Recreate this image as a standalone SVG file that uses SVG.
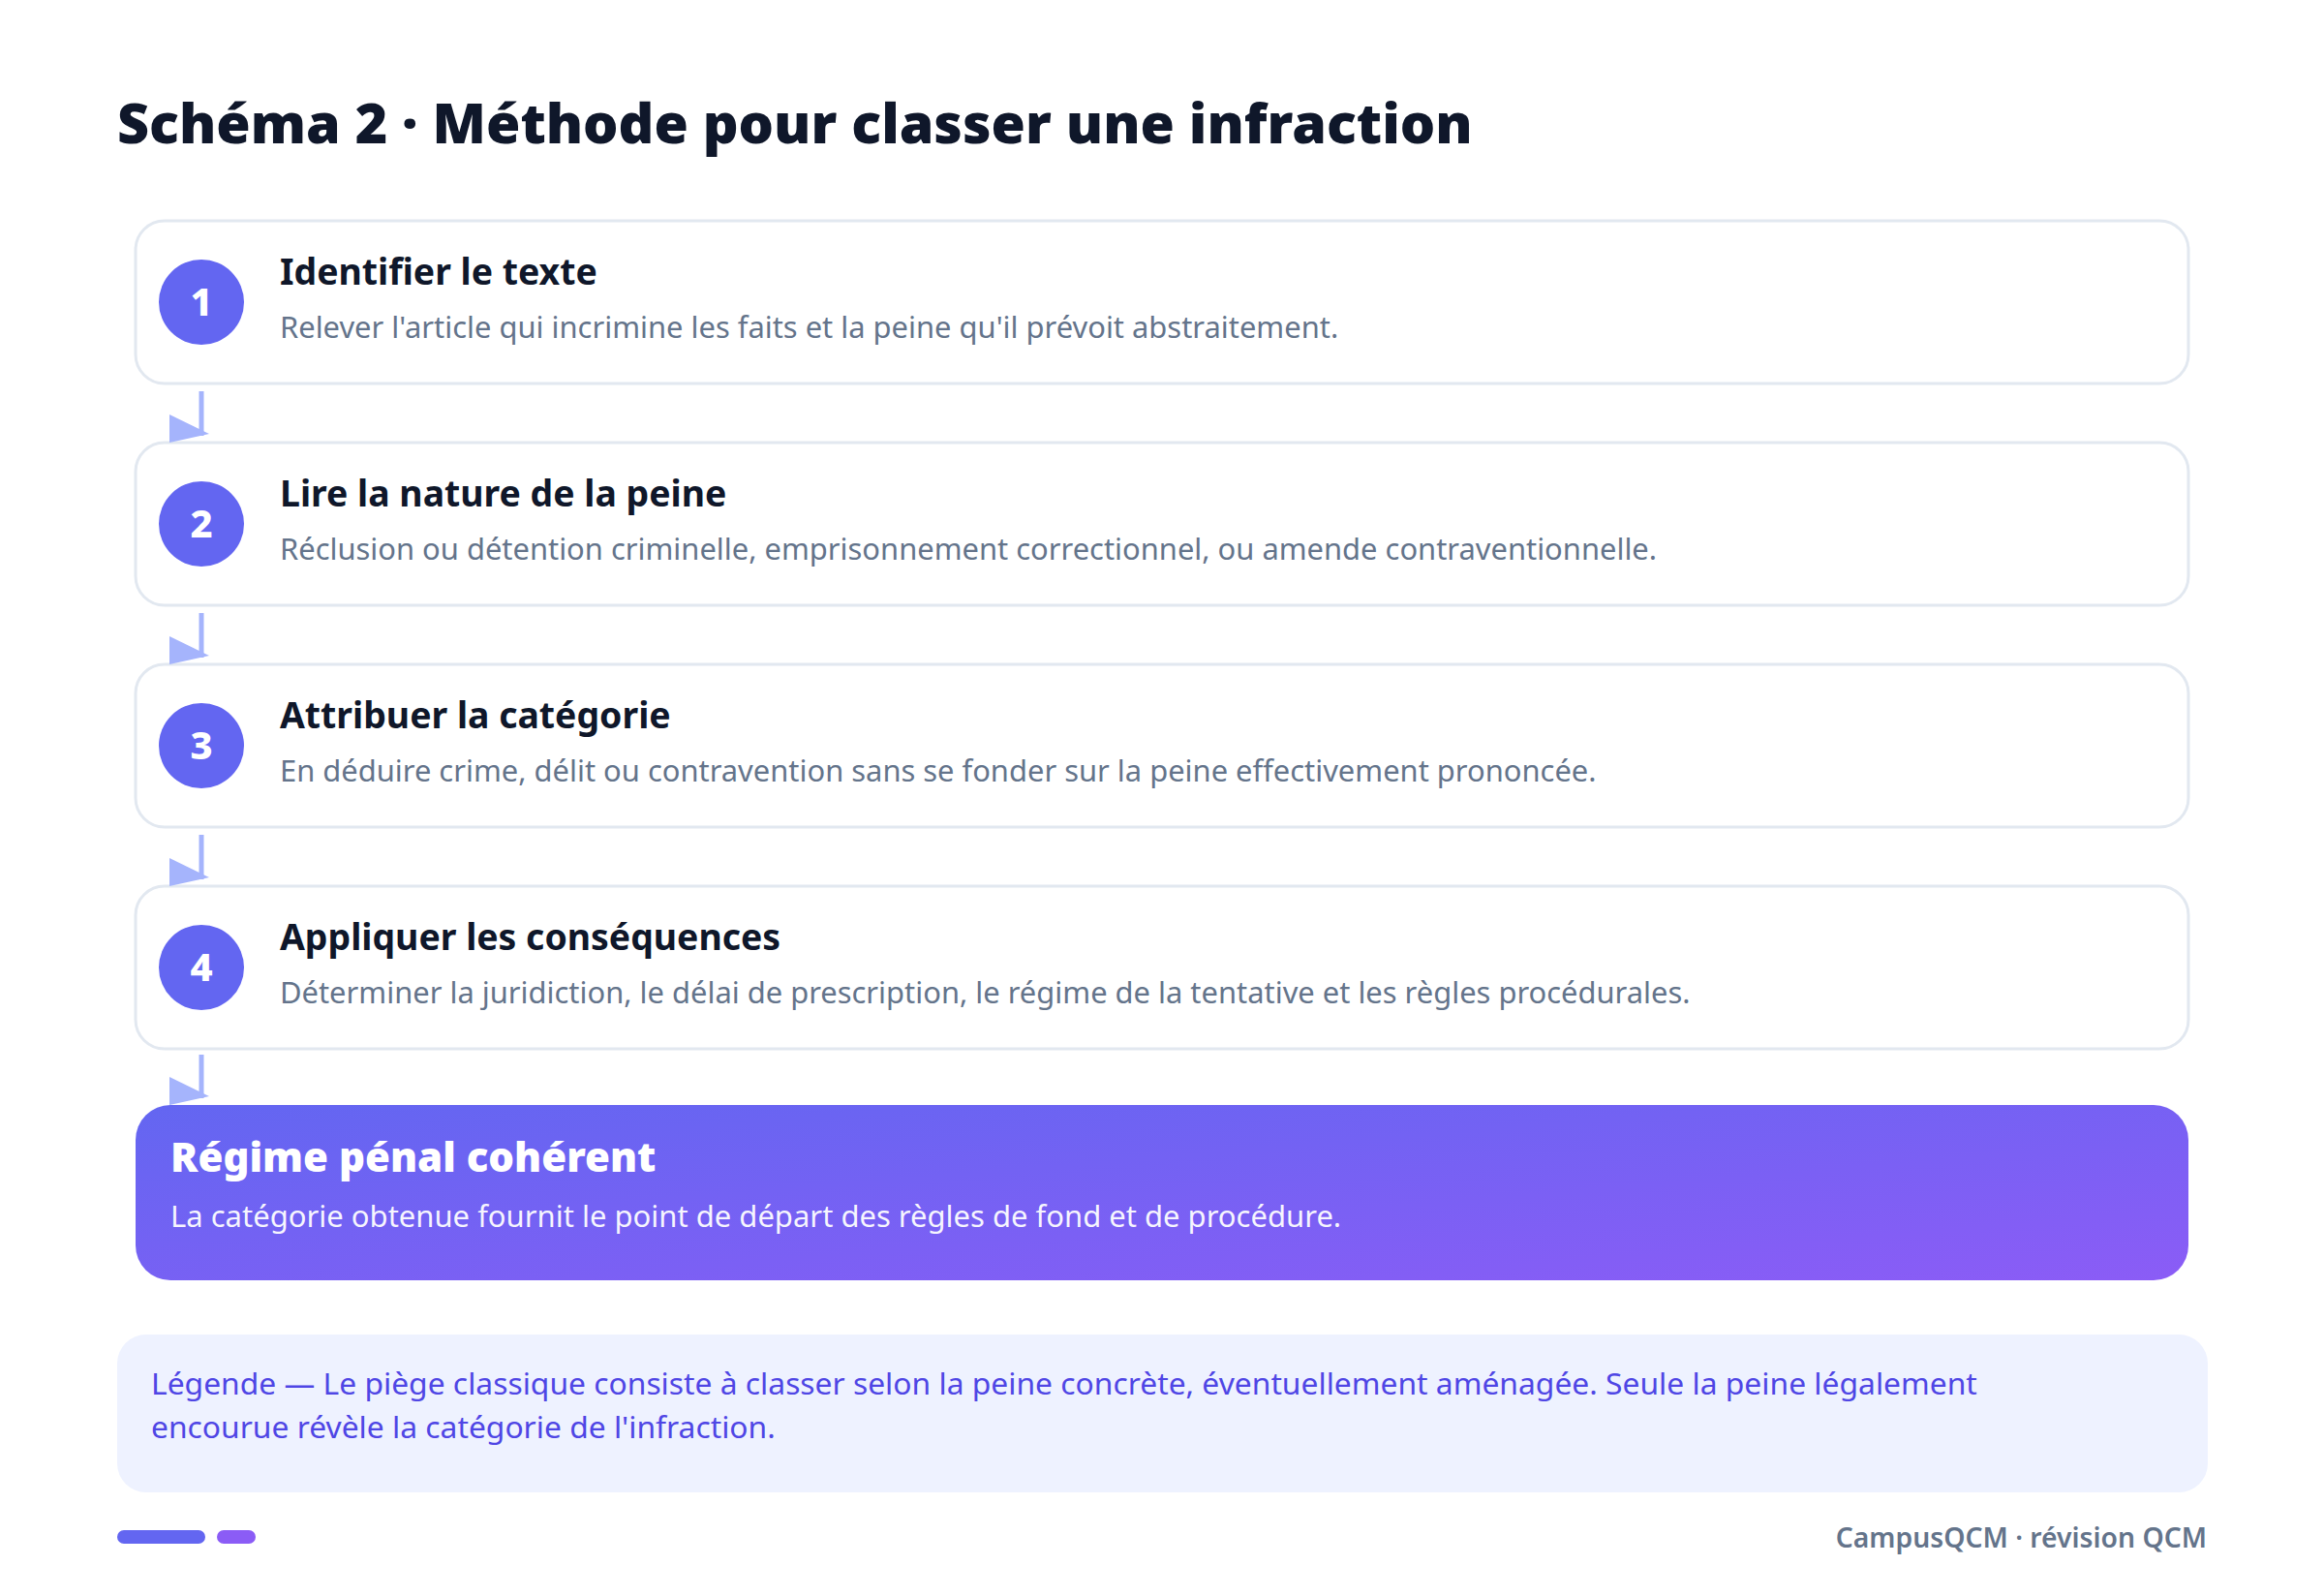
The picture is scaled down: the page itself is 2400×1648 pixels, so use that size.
<svg xmlns="http://www.w3.org/2000/svg" width="2400" height="1648" viewBox="0 0 2400 1648">
<defs>
<linearGradient id="gFinal" x1="0" y1="0" x2="1" y2="1">
<stop offset="0" stop-color="#6366f1"/>
<stop offset="1" stop-color="#8b5cf6"/>
</linearGradient>
<style>
.card{fill:#ffffff;stroke:#e2e8f0;stroke-width:3}
.num{fill:#6366f1}
.numt{font-family:"Noto Sans","Open Sans",sans-serif;font-weight:800;font-size:40px;fill:#ffffff;text-anchor:middle}
.ttl{font-family:"Noto Sans","Open Sans",sans-serif;font-weight:700;font-size:37.4px;fill:#0f172a}
.dsc{font-family:"Noto Sans","Open Sans",sans-serif;font-weight:400;font-size:30.9px;fill:#64748b}
.ln{stroke:#a5b4fc;stroke-width:5;fill:none}
.hd{fill:#a5b4fc}
.lg{font-family:"Noto Sans","Open Sans",sans-serif;font-size:31.8px;fill:#4f46e5}
</style>
</defs>
<rect width="2400" height="1648" fill="#ffffff"/>
<text x="121" y="148" font-family="Noto Sans, Open Sans, sans-serif" font-weight="900" font-size="57.3" fill="#0f172a">Schéma 2 · Méthode pour classer une infraction</text>

<g id="step1">
<rect class="card" x="140" y="228" width="2120" height="168" rx="30"/>
<circle class="num" cx="208" cy="312" r="44"/>
<text class="numt" x="208" y="326">1</text>
<text class="ttl" x="289" y="294">Identifier le texte</text>
<text class="dsc" x="289" y="349">Relever l'article qui incrimine les faits et la peine qu'il prévoit abstraitement.</text>
</g>
<g id="step2">
<rect class="card" x="140" y="457" width="2120" height="168" rx="30"/>
<circle class="num" cx="208" cy="541" r="44"/>
<text class="numt" x="208" y="555">2</text>
<text class="ttl" x="289" y="523">Lire la nature de la peine</text>
<text class="dsc" x="289" y="578">Réclusion ou détention criminelle, emprisonnement correctionnel, ou amende contraventionnelle.</text>
</g>
<g id="step3">
<rect class="card" x="140" y="686" width="2120" height="168" rx="30"/>
<circle class="num" cx="208" cy="770" r="44"/>
<text class="numt" x="208" y="784">3</text>
<text class="ttl" x="289" y="752">Attribuer la catégorie</text>
<text class="dsc" x="289" y="807">En déduire crime, délit ou contravention sans se fonder sur la peine effectivement prononcée.</text>
</g>
<g id="step4">
<rect class="card" x="140" y="915" width="2120" height="168" rx="30"/>
<circle class="num" cx="208" cy="999" r="44"/>
<text class="numt" x="208" y="1013">4</text>
<text class="ttl" x="289" y="981">Appliquer les conséquences</text>
<text class="dsc" x="289" y="1036">Déterminer la juridiction, le délai de prescription, le régime de la tentative et les règles procédurales.</text>
</g>
<g id="result">
<rect x="140" y="1141" width="2120" height="181" rx="36" fill="url(#gFinal)"/>
<text x="176" y="1210" font-family="Noto Sans, Open Sans, sans-serif" font-weight="900" font-size="42" fill="#ffffff">Régime pénal cohérent</text>
<text x="176" y="1267" font-family="Noto Sans, Open Sans, sans-serif" font-size="31" fill="#ffffff" fill-opacity="0.95">La catégorie obtenue fournit le point de départ des règles de fond et de procédure.</text>
</g>

<g id="connectors">
<line class="ln" x1="208" y1="404" x2="208" y2="450"/>
<polygon class="hd" points="175,428 175,457 216,448"/>
<line class="ln" x1="208" y1="633" x2="208" y2="679"/>
<polygon class="hd" points="175,657 175,686 216,677"/>
<line class="ln" x1="208" y1="862" x2="208" y2="908"/>
<polygon class="hd" points="175,886 175,915 216,906"/>
<line class="ln" x1="208" y1="1089" x2="208" y2="1134"/>
<polygon class="hd" points="175,1112 175,1141 216,1132"/>
</g>

<g id="legend">
<rect x="121" y="1378" width="2159" height="163" rx="30" fill="#eef2ff"/>
<text class="lg" x="156" y="1440">Légende — Le piège classique consiste à classer selon la peine concrète, éventuellement aménagée. Seule la peine légalement</text>
<text class="lg" x="156" y="1485">encourue révèle la catégorie de l'infraction.</text>
</g>

<g id="footer">
<rect x="121" y="1580" width="91" height="14" rx="7" fill="#6366f1"/>
<rect x="224" y="1580" width="40" height="14" rx="7" fill="#8b5cf6"/>
<text x="2279" y="1598" text-anchor="end" font-family="Noto Sans, Open Sans, sans-serif" font-weight="600" font-size="28.3" fill="#64748b">CampusQCM · révision QCM</text>
</g>
</svg>
